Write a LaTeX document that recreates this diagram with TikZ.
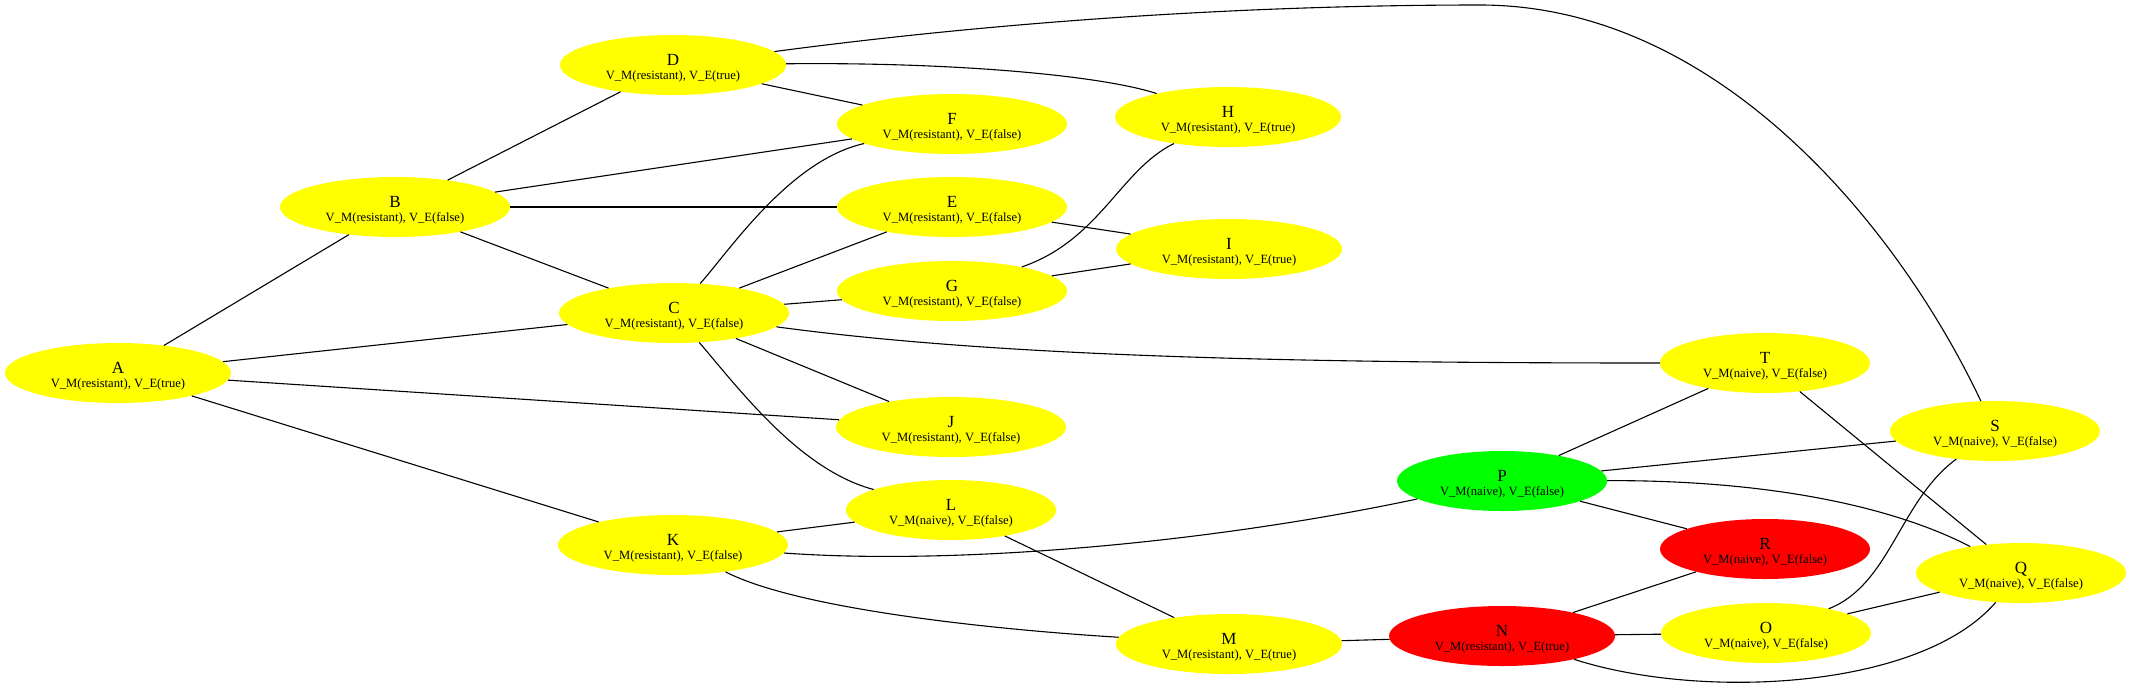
\documentclass[tikz,border=0pt]{standalone}
\usepackage{fontspec}
\setmainfont{Liberation Serif}
\usetikzlibrary{shapes.geometric}
\definecolor{gyellow}{HTML}{FFFF00}
\definecolor{ggreen}{HTML}{00FF00}
\definecolor{gred}{HTML}{FF0000}
\tikzset{
  ell/.style={ellipse, draw=none, minimum height=60pt, inner sep=0pt},
  lt/.style={font=\fontsize{17}{17}\selectfont, inner sep=0pt, anchor=base},
  st/.style={font=\fontsize{12.6}{13}\selectfont, inner sep=0pt, anchor=base},
  edge/.style={line width=1.1pt, black}
}
\newcommand{\mknode}[6]{%
  \node[ell, fill=#5, minimum width=#4pt] (#1) at (#2,#3) {};
  \node[lt] (#1l) at ([yshift=-0.5pt]#1.center) {#1};
  \node[st] (#1t) at ([yshift=-14pt]#1.center) {#6};
}
\begin{document}
\begin{tikzpicture}[x=1pt,y=-1pt]
\useasboundingbox (0,0) rectangle (2130,697);
\def\rf{V\_M(resistant), V\_E(false)}
\def\rt{V\_M(resistant), V\_E(true)}
\def\nf{V\_M(naive), V\_E(false)}
\mknode{A}{118}{373}{226}{gyellow}{\rt}
\mknode{B}{395}{207}{230}{gyellow}{\rf}
\mknode{C}{674}{313}{230}{gyellow}{\rf}
\mknode{D}{673}{65}{226}{gyellow}{\rt}
\mknode{E}{952}{207}{230}{gyellow}{\rf}
\mknode{F}{952}{124}{230}{gyellow}{\rf}
\mknode{G}{952}{291}{230}{gyellow}{\rf}
\mknode{H}{1228}{117}{226}{gyellow}{\rt}
\mknode{I}{1229}{249}{226}{gyellow}{\rt}
\mknode{J}{951}{427}{230}{gyellow}{\rf}
\mknode{K}{673}{545}{230}{gyellow}{\rf}
\mknode{L}{951}{510}{210}{gyellow}{\nf}
\mknode{M}{1229}{644}{226}{gyellow}{\rt}
\mknode{N}{1502}{636}{226}{gred}{\rt}
\mknode{O}{1766}{633}{210}{gyellow}{\nf}
\mknode{P}{1502}{481}{210}{ggreen}{\nf}
\mknode{Q}{2021}{573}{210}{gyellow}{\nf}
\mknode{R}{1765}{549}{210}{gred}{\nf}
\mknode{S}{1995}{431}{210}{gyellow}{\nf}
\mknode{T}{1765}{363}{210}{gyellow}{\nf}
% straight edges
\draw[edge] (A) -- (B);
\draw[edge] (A) -- (C);
\draw[edge] (A) -- (J);
\draw[edge] (A) -- (K);
\draw[edge] (B) -- (D);
\draw[edge] (B) -- (F);
\draw[edge] (B) -- (E);
\draw[edge] (B) -- (C);
\draw[edge] (C) -- (E);
\draw[edge] (C) -- (G);
\draw[edge] (C) -- (J);
\draw[edge] (D) -- (F);
\draw[edge] (E) -- (I);
\draw[edge] (G) -- (I);
\draw[edge] (K) -- (L);
\draw[edge] (L) -- (M);
\draw[edge] (M) -- (N);
\draw[edge] (N) -- (R);
\draw[edge] (N) -- (O);
\draw[edge] (O) -- (Q);
\draw[edge] (P) -- (T);
\draw[edge] (P) -- (S);
\draw[edge] (P) -- (R);
\draw[edge] (T) -- (Q);
% curved edges
\draw[edge] (C) .. controls (730,250) and (790,160) .. (F);
\draw[edge] (C) .. controls (740,390) and (800,470) .. (L);
\draw[edge] (C) .. controls (1000,357) and (1300,363) .. (T);
\draw[edge] (D) .. controls (950,62) and (1100,75) .. (H);
\draw[edge] (D) .. controls (1050,15) and (1300,5) .. (1480,5) .. controls (1720,5) and (1900,230) .. (S);
\draw[edge] (G) .. controls (1100,240) and (1120,170) .. (H);
\draw[edge] (K) .. controls (950,565) and (1200,545) .. (P);
\draw[edge] (K) .. controls (800,610) and (1000,630) .. (M);
\draw[edge] (N) .. controls (1700,700) and (1920,690) .. (Q);
\draw[edge] (O) .. controls (1890,585) and (1900,500) .. (S);
\draw[edge] (P) .. controls (1780,480) and (1900,510) .. (Q);
\end{tikzpicture}
\end{document}
